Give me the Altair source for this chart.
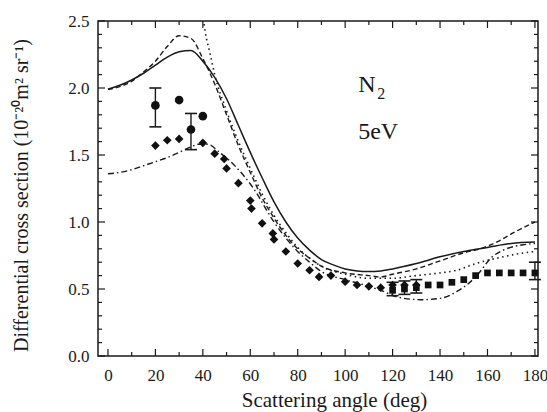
import altair as alt
import pandas as pd

# ---------------- data ----------------
solid_deg = [0, 5, 10, 15, 20, 25, 30, 35, 40, 45, 50, 55, 60, 65, 70, 75, 80, 85, 90, 95,
             100, 105, 110, 115, 120, 130, 140, 150, 160, 170, 180]
solid_val = [1.99, 2.02, 2.06, 2.11, 2.17, 2.23, 2.27, 2.28, 2.20, 2.08, 1.92, 1.72, 1.52, 1.33,
             1.15, 1.00, 0.88, 0.79, 0.72, 0.68, 0.65, 0.635, 0.63, 0.635, 0.65, 0.69, 0.74,
             0.78, 0.81, 0.84, 0.85]

dashed_deg = [0, 5, 10, 15, 20, 25, 30, 35, 40, 45, 50, 55, 60, 65, 70, 75, 80, 85, 90, 100,
              110, 115, 120, 130, 140, 150, 157, 165, 171, 180]
dashed_val = [1.99, 2.01, 2.05, 2.12, 2.20, 2.31, 2.39, 2.37, 2.22, 2.03, 1.80, 1.57, 1.37, 1.18,
              1.03, 0.90, 0.80, 0.73, 0.67, 0.62, 0.60, 0.59, 0.61, 0.65, 0.71, 0.77, 0.80,
              0.86, 0.92, 1.00]

dotted_deg = [39, 41, 43, 45, 50, 55, 60, 65, 70, 75, 80, 85, 90, 100, 110, 120, 130, 140, 147,
              155, 164, 172, 180]
dotted_val = [2.70, 2.42, 2.26, 2.10, 1.83, 1.60, 1.40, 1.21, 1.05, 0.92, 0.81, 0.73, 0.67, 0.61,
              0.58, 0.58, 0.60, 0.62, 0.64, 0.69, 0.73, 0.76, 0.78]

dashdot_deg = [0, 5, 10, 15, 20, 25, 30, 35, 38, 42, 47, 54, 61, 70, 75, 80, 85, 90, 100, 110,
               115, 122, 132, 140, 147, 155, 162, 168, 175, 180]
dashdot_val = [1.36, 1.37, 1.39, 1.42, 1.45, 1.48, 1.52, 1.56, 1.58, 1.58, 1.52, 1.41, 1.26,
               1.00, 0.88, 0.78, 0.70, 0.63, 0.57, 0.52, 0.49, 0.44, 0.42, 0.43, 0.48, 0.59,
               0.74, 0.80, 0.83, 0.84]

diamond_deg = [20, 25, 30, 40, 45, 49, 50, 55, 60, 60.5, 65, 69.5, 70, 75, 80, 85, 89, 94, 100,
               105, 110, 115, 120, 125, 130]
diamond_val = [1.57, 1.61, 1.62, 1.59, 1.51, 1.47, 1.40, 1.29, 1.16, 1.10, 0.99, 0.915, 0.87,
               0.78, 0.69, 0.64, 0.59, 0.60, 0.555, 0.53, 0.52, 0.51, 0.53, 0.53, 0.53]

square_deg = [120, 125, 130, 135, 140, 145, 150, 155, 160, 165, 170, 175, 180]
square_val = [0.49, 0.50, 0.51, 0.53, 0.53, 0.55, 0.57, 0.60, 0.62, 0.62, 0.62, 0.62, 0.62]

circle_deg = [20, 30, 35, 40]
circle_val = [1.87, 1.91, 1.69, 1.79]

err_deg = [20, 35, 120, 125, 130, 180]
err_lo = [1.71, 1.54, 0.45, 0.46, 0.47, 0.57]
err_hi = [2.00, 1.81, 0.55, 0.56, 0.57, 0.70]

x_major = [0, 20, 40, 60, 80, 100, 120, 140, 160, 180]
x_minor = [10, 30, 50, 70, 90, 110, 130, 150, 170]
y_major = [0.0, 0.5, 1.0, 1.5, 2.0, 2.5]
y_minor = [0.1, 0.2, 0.3, 0.4, 0.6, 0.7, 0.8, 0.9, 1.1, 1.2, 1.3, 1.4,
           1.6, 1.7, 1.8, 1.9, 2.1, 2.2, 2.3, 2.4]

label_deg = [105.5]
label_n_val = [2.02]
label_e_val = [1.67]

# ---------------- chart ----------------
W, H = 440, 335
FONT = "Liberation Serif"
INK = "#1a1a1a"

xs = alt.Scale(domain=[-4.2, 181.3], nice=False, zero=False)
ys = alt.Scale(domain=[0, 2.5], nice=False, zero=False)

xaxis = alt.Axis(values=x_major, title="Scattering angle (deg)", grid=False, ticks=False,
                 domain=False, labelFont=FONT, labelFontSize=17, labelColor=INK,
                 labelPadding=11, titleFont=FONT, titleFontSize=21, titleFontWeight="normal",
                 titleColor=INK, titleX=236, titleY=50, titleBaseline="alphabetic",
                 titleAlign="center")
yaxis = alt.Axis(values=y_major, format=".1f",
                 title="Differential cross section (10⁻²⁰m² sr⁻¹)", grid=False, ticks=False,
                 domain=False, labelFont=FONT, labelFontSize=17, labelColor=INK,
                 labelPadding=9, titleFont=FONT, titleFontSize=20, titleFontWeight="normal",
                 titleColor=INK, titleX=-67, titleY=174, titleAngle=-90,
                 titleBaseline="bottom", titleAlign="center")


def X(field="deg"):
    return alt.X(f"{field}:Q", scale=xs, axis=xaxis)


def Y(field="val"):
    return alt.Y(f"{field}:Q", scale=ys, axis=yaxis)


def curve(degs, vals, dash, width=1.4):
    df = pd.DataFrame({"deg": degs, "val": vals})
    kw = dict(color=INK, strokeWidth=width, clip=True, interpolate="monotone")
    if dash:
        kw["strokeDash"] = dash
    return alt.Chart(df).mark_line(**kw).encode(x=X(), y=Y())


layers = [
    curve(solid_deg, solid_val, None, 1.5),
    curve(dashed_deg, dashed_val, [5, 3]),
    curve(dotted_deg, dotted_val, [1.5, 3.5], 1.6),
    curve(dashdot_deg, dashdot_val, [6, 3, 1.5, 3]),
]

err_df = pd.DataFrame({"deg": err_deg, "lo": err_lo, "hi": err_hi})
layers.append(alt.Chart(err_df).mark_rule(color=INK, strokeWidth=1.4).encode(
    x=X(), y=alt.Y("lo:Q", scale=ys, axis=yaxis), y2="hi:Q"))
for col in ["lo", "hi"]:
    layers.append(alt.Chart(err_df).mark_rule(color=INK, strokeWidth=1.6,
                                              xOffset=-6, x2Offset=6).encode(
        x=X(), x2="deg:Q", y=alt.Y(f"{col}:Q", scale=ys, axis=yaxis)))

layers.append(alt.Chart(pd.DataFrame({"deg": diamond_deg, "val": diamond_val}))
              .mark_point(shape="diamond", filled=True, size=75, color="#111", opacity=1)
              .encode(x=X(), y=Y()))
layers.append(alt.Chart(pd.DataFrame({"deg": square_deg, "val": square_val}))
              .mark_point(shape="square", filled=True, size=45, color="#111", opacity=1)
              .encode(x=X(), y=Y()))
layers.append(alt.Chart(pd.DataFrame({"deg": circle_deg, "val": circle_val}))
              .mark_point(shape="circle", filled=True, size=75, color="#111", opacity=1)
              .encode(x=X(), y=Y()))

# inward ticks on all four sides
for vals, L in [(x_major, 7), (x_minor, 4)]:
    d = pd.DataFrame({"deg": vals})
    layers.append(alt.Chart(d).mark_rule(color=INK, strokeWidth=1.2).encode(
        x=X(), y=alt.value(H), y2=alt.value(H - L)))
    layers.append(alt.Chart(d).mark_rule(color=INK, strokeWidth=1.2).encode(
        x=X(), y=alt.value(0), y2=alt.value(L)))
for vals, L in [(y_major, 7), (y_minor, 4)]:
    d = pd.DataFrame({"val": vals})
    layers.append(alt.Chart(d).mark_rule(color=INK, strokeWidth=1.2).encode(
        y=Y(), x=alt.value(0), x2=alt.value(L)))
    layers.append(alt.Chart(d).mark_rule(color=INK, strokeWidth=1.2).encode(
        y=Y(), x=alt.value(W), x2=alt.value(W - L)))

# labels
ann_n = pd.DataFrame({"deg": label_deg, "val": label_n_val, "t": ["N"]})
ann_2 = pd.DataFrame({"deg": label_deg, "val": label_n_val, "t": ["2"]})
ann_e = pd.DataFrame({"deg": label_deg, "val": label_e_val, "t": ["5eV"]})
layers.append(alt.Chart(ann_n).mark_text(font=FONT, fontSize=24, align="left",
                                          baseline="middle", color=INK)
              .encode(x=X(), y=Y(), text="t:N"))
layers.append(alt.Chart(ann_2).mark_text(font=FONT, fontSize=16, align="left",
                                          baseline="middle", color=INK, dx=19, dy=9)
              .encode(x=X(), y=Y(), text="t:N"))
layers.append(alt.Chart(ann_e).mark_text(font=FONT, fontSize=24, align="left",
                                          baseline="middle", color=INK)
              .encode(x=X(), y=Y(), text="t:N"))

chart = alt.layer(*layers).properties(
    width=W, height=H,
    autosize=alt.AutoSizeParams(type="none"),
    padding={"left": 98, "top": 21, "right": 9, "bottom": 56},
    background="white",
).configure_view(stroke=INK, strokeWidth=1.5)

chart.save("out.html", embed_options={"renderer": "svg", "actions": False})
